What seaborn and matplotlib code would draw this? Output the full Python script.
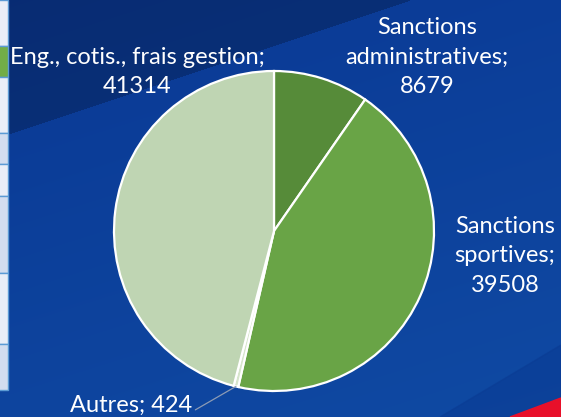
import numpy as np
import matplotlib
matplotlib.use("Agg")
import matplotlib.pyplot as plt
import seaborn as sns
from matplotlib.patches import Polygon, Rectangle

categories = ["Sanctions administratives", "Sanctions sportives", "Autres", "Eng., cotis., frais gestion"]
values = [8679, 39508, 424, 41314]
label_texts = ["Sanctions\nadministratives;\n8679", "Sanctions\nsportives;\n39508",
               "Autres; 424", "Eng., cotis., frais gestion;\n41314"]
colors = ["#568b39", "#69a446", "#d6e5cb", "#bfd5b3"]

sns.set_style("white")
plt.rcParams['font.family'] = ['Lato', 'DejaVu Sans']

W, H = 561, 417
fig = plt.figure(figsize=(W / 100, H / 100), dpi=100)

# background
bg = fig.add_axes([0, 0, 1, 1])
bg.set_xlim(0, W)
bg.set_ylim(H, 0)
bg.axis("off")
yy, xx = np.mgrid[0:H, 0:W]
t = np.clip((yy / H) * 0.7 + (xx / W) * 0.3, 0, 1)
c0 = np.array([0.04, 0.22, 0.58])
c1 = np.array([0.06, 0.29, 0.64])
img = c0[None, None, :] * (1 - t[..., None]) + c1[None, None, :] * t[..., None]
mask = yy < (137 - (137 / 410) * xx)
img[mask] = img[mask] * 0.78
bg.imshow(img, extent=[0, W, H, 0], aspect="auto", zorder=0)
bg.add_patch(Polygon([[440, 417], [561, 345], [561, 417]], closed=True, color="#0a3a92", alpha=0.5, zorder=1))
bg.add_patch(Polygon([[510, 417], [561, 398], [561, 417]], closed=True, color="#e8102a", zorder=2))
rows = [0, 46, 77, 133, 164, 196, 273, 344, 390]
fills = ["#e9eef7", "#72ad47", "#e9eef7", "#d2ddef", "#e9eef7", "#d2ddef", "#e9eef7", "#d2ddef"]
for i in range(len(rows) - 1):
    bg.add_patch(Rectangle((-2, rows[i]), 10, rows[i + 1] - rows[i], facecolor=fills[i],
                           edgecolor="#5b9bd5", linewidth=1, zorder=3))

# pie
cx, cy, r = 274, 231, 160
ax = fig.add_axes([(cx - r) / W, (H - cy - r) / H, 2 * r / W, 2 * r / H])
ax.set_facecolor("none")
ax.pie(values, colors=colors, startangle=90, counterclock=False, radius=1.0,
       wedgeprops=dict(edgecolor="white", linewidth=1.6))
ax.set_xlim(-1, 1)
ax.set_ylim(-1, 1)
ax.axis("off")

def to_data(px, py):
    return ((px - cx) / r, (cy - py) / r)

kw = dict(color="white", fontsize=17, ha="center", va="center", linespacing=1.5)
x, y = to_data(427, 57)
ax.text(x, y, label_texts[0], **kw, clip_on=False)
x, y = to_data(505, 256)
ax.text(x, y, label_texts[1], **kw, clip_on=False)
x, y = to_data(137, 72)
ax.text(x, y, label_texts[3], **kw, clip_on=False)

cum = np.cumsum([0] + values)
frac = (cum[2] + values[2] / 2) / cum[-1]
ang = np.deg2rad(90 - frac * 360)
ex, ey = np.cos(ang), np.sin(ang)
tx, ty = to_data(131, 405)
ax.annotate(label_texts[2], xy=(ex, ey), xytext=(tx, ty), color="white", fontsize=17,
            ha="center", va="center", annotation_clip=False,
            arrowprops=dict(arrowstyle="-", color="#8c9bb5", lw=0.9,
                            shrinkA=0, shrinkB=0,
                            connectionstyle="angle,angleA=0,angleB=30,rad=0",
                            relpos=(1.0, 0.05)))

fig.savefig("out.png", dpi=100)
